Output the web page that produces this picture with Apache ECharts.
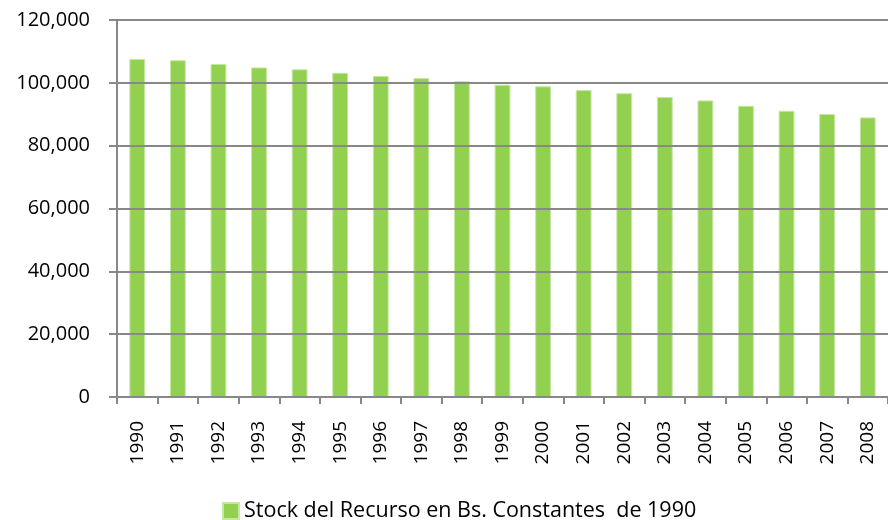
<!DOCTYPE html>
<html>
<head>
<meta charset="utf-8">
<script src="https://cdn.jsdelivr.net/npm/echarts@6/dist/echarts.min.js"></script>
<style>
  html, body { margin: 0; padding: 0; background: #fff; }
  #main { width: 888px; height: 520px; }
</style>
</head>
<body>
<div id="main"></div>
<script>
// years on the x axis
const years = ['1990', '1991', '1992', '1993', '1994', '1995', '1996', '1997', '1998', '1999',
  '2000', '2001', '2002', '2003', '2004', '2005', '2006', '2007', '2008'];

// stock values
const stock = [107600, 107200, 106000, 104900, 104300, 103200, 102200, 101500, 100500, 99400,
  98900, 97700, 96700, 95500, 94400, 92700, 91100, 90100, 89000];

const seriesName = 'Stock del Recurso en Bs. Constantes  de 1990';

const chart = echarts.init(document.getElementById('main'), null, { renderer: 'canvas' });

const font = 'Open Sans';

const option = {
  animation: false,
  grid: { left: 117, top: 20, right: -9, bottom: 123, containLabel: false },
  legend: {
    bottom: -7,
    left: 217,
    itemWidth: 16,
    itemHeight: 16,
    itemGap: 3,
    icon: 'rect',
    textStyle: { fontFamily: font, fontSize: 21.5, color: '#000' },
    data: [seriesName]
  },
  xAxis: {
    type: 'category',
    data: years,
    axisLine: { lineStyle: { color: '#888', width: 2 } },
    axisTick: { show: true, length: 7, lineStyle: { color: '#888', width: 2 } },
    axisLabel: { rotate: 90, margin: 24, fontFamily: font, fontSize: 19, color: '#000' },
    splitLine: { show: false }
  },
  yAxis: {
    type: 'value',
    min: 0,
    max: 120000,
    interval: 20000,
    z: 3,
    axisLine: { show: true, lineStyle: { color: '#888', width: 2 } },
    axisTick: { show: true, length: 8, lineStyle: { color: '#888', width: 2 } },
    axisLabel: {
      margin: 27,
      fontFamily: font,
      fontSize: 20,
      color: '#000',
      formatter: v => v.toLocaleString('en-US')
    },
    splitLine: { lineStyle: { color: '#888', width: 2 } }
  },
  series: [
    {
      name: seriesName,
      type: 'bar',
      data: stock,
      barWidth: '39%',
      itemStyle: { color: '#92D050', borderColor: '#C6E8A5', borderWidth: 1 }
    }
  ]
};

chart.setOption(option);
</script>
</body>
</html>
